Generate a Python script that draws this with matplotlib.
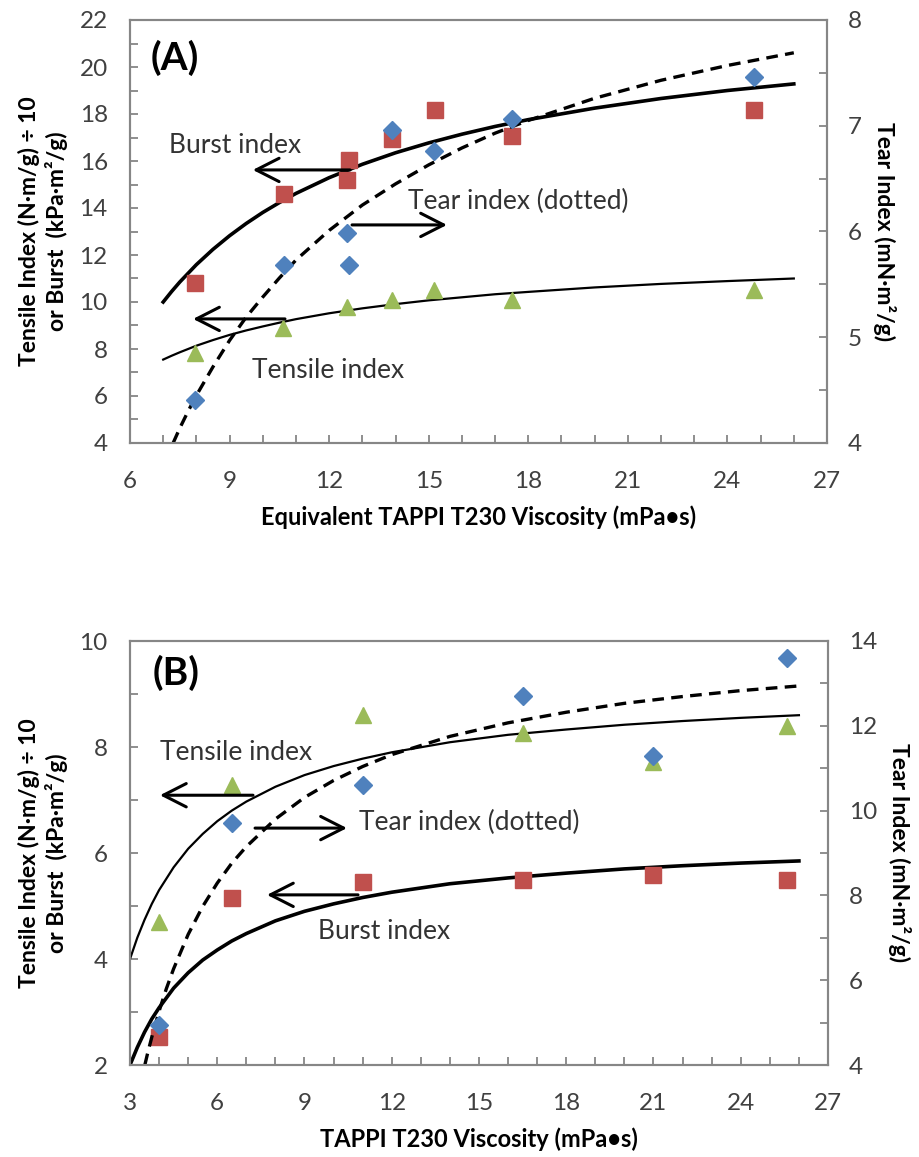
import matplotlib
matplotlib.use("Agg")
import matplotlib.pyplot as plt
from matplotlib.ticker import MultipleLocator

plt.rcParams['font.family'] = ['Lato', 'DejaVu Sans']

BLUE = '#4F81BD'
RED = '#C0504D'
GREEN = '#9BBB59'
SPINE = '#868686'
TICKTXT = '#404040'

# ---------------- Panel A data ----------------
a_x = [7.95, 10.65, 12.55, 12.6, 13.9, 15.15, 17.5, 24.8]
a_x_sq = [7.95, 10.65, 12.6, 12.55, 13.9, 15.2, 17.5, 24.8]
a_x_tri = [7.95, 10.6, 12.55, 13.9, 15.15, 17.5, 24.8]
a_tear = [4.41, 5.68, 5.99, 5.68, 6.96, 6.76, 7.06, 7.46]          # right axis
a_burst = [10.8, 14.6, 16.05, 15.2, 16.95, 18.15, 17.05, 18.15]
a_tensile = [7.85, 8.9, 9.8, 10.1, 10.5, 10.1, 10.5]

# trend lines
a_fit_x = [7, 7.25, 7.5, 8, 8.5, 9, 9.5, 10, 10.5, 11, 12, 13, 14, 15, 16, 17,
           18, 20, 22, 24, 26]
a_fit_burst = [10.00, 10.44, 10.85, 11.59, 12.24, 12.82, 13.34, 13.81, 14.23,
               14.62, 15.29, 15.86, 16.35, 16.77, 17.14, 17.47, 17.76, 18.25,
               18.66, 19.00, 19.28]
a_fit_tensile = [7.55, 7.71, 7.86, 8.14, 8.38, 8.60, 8.79, 8.96, 9.12, 9.27,
                 9.52, 9.73, 9.91, 10.07, 10.20, 10.33, 10.43, 10.62, 10.77,
                 10.89, 11.00]
a_fit_tear_x = [7.3, 7.5, 7.75, 8, 8.5, 9, 9.5, 10, 10.5, 11, 12, 13, 14, 15,
                16, 17, 18, 20, 22, 24, 26]
a_fit_tear = [4.00, 4.14, 4.30, 4.45, 4.72, 4.97, 5.19, 5.38, 5.56, 5.73,
              6.01, 6.25, 6.45, 6.63, 6.79, 6.93, 7.05, 7.26, 7.43, 7.57, 7.69]

# ---------------- Panel B data ----------------
b_x = [4.0, 6.5, 11.0, 16.5, 21.0, 25.6]
b_tear = [4.94, 9.71, 10.6, 12.7, 11.29, 13.6]                      # right axis
b_burst = [2.53, 5.15, 5.45, 5.49, 5.58, 5.49]
b_tensile = [4.70, 7.28, 8.60, 8.26, 7.72, 8.40]

b_fit_x = [3, 3.25, 3.5, 3.75, 4, 4.5, 5, 5.5, 6, 6.5, 7, 8, 9, 10, 11, 12,
           14, 16, 18, 20, 22, 24, 26]
b_fit_tensile = [4.00, 4.40, 4.74, 5.04, 5.30, 5.73, 6.08, 6.36, 6.60, 6.80,
                 6.97, 7.25, 7.47, 7.64, 7.78, 7.90, 8.09, 8.23, 8.33, 8.42,
                 8.49, 8.55, 8.60]
b_fit_burst = [2.00, 2.33, 2.62, 2.87, 3.08, 3.45, 3.74, 3.98, 4.17, 4.34,
               4.48, 4.72, 4.90, 5.04, 5.16, 5.26, 5.42, 5.53, 5.62, 5.70,
               5.76, 5.81, 5.85]
b_fit_tear_x = [3.51, 3.6, 3.75, 4, 4.25, 4.5, 5, 5.5, 6, 6.5, 7, 8, 9, 10,
                11, 12, 14, 16, 18, 20, 22, 24, 26]
b_fit_tear = [4.00, 4.26, 4.66, 5.27, 5.80, 6.27, 7.08, 7.74, 8.29, 8.76,
              9.15, 9.80, 10.31, 10.71, 11.04, 11.32, 11.75, 12.07, 12.32,
              12.53, 12.69, 12.83, 12.94]

ylabel_left = 'Tensile Index (N·m/g) ÷ 10\nor Burst  (kPa·m²/g)'
ylabel_right = 'Tear Index (mN·m²/g)'

W, H = 920, 1157
fig = plt.figure(figsize=(W / 100, H / 100), dpi=100)


def px_axes(l, t, r, b):
    return fig.add_axes([l / W, 1 - b / H, (r - l) / W, (b - t) / H])


def style(ax, ax2, xlim, ylim, y2lim, xmaj, ymaj, y2maj, y2min):
    ax.set_xlim(*xlim)
    ax.set_ylim(*ylim)
    ax2.set_ylim(*y2lim)
    ax.xaxis.set_major_locator(MultipleLocator(xmaj))
    ax.xaxis.set_minor_locator(MultipleLocator(1))
    ax.yaxis.set_major_locator(MultipleLocator(ymaj))
    ax.yaxis.set_minor_locator(MultipleLocator(1))
    ax2.yaxis.set_major_locator(MultipleLocator(y2maj))
    ax2.yaxis.set_minor_locator(MultipleLocator(y2min))
    for a in (ax, ax2):
        for s in a.spines.values():
            s.set_color(SPINE)
            s.set_linewidth(1.5)
        a.tick_params(which='both', direction='in', length=6, width=1.3,
                      color=SPINE, labelsize=17.5, labelcolor=TICKTXT)
    ax.tick_params(axis='x', pad=20)
    ax.tick_params(axis='y', pad=16)
    ax2.tick_params(axis='y', pad=15)
    ax.set_ylabel(ylabel_left, fontsize=16.5, fontweight='bold', labelpad=8,
                  linespacing=1.3)
    ax2.set_ylabel(ylabel_right, fontsize=16.5, fontweight='bold', rotation=-90,
                   labelpad=8, va='bottom')


def arrow(ax, x0, x1, y):
    ax.annotate('', xy=(x1, y), xytext=(x0, y),
                arrowprops=dict(arrowstyle='->,head_length=0.55,head_width=0.28',
                                lw=2.2, color='black',
                                mutation_scale=30, shrinkA=0, shrinkB=0))


lbl = dict(fontsize=19, color='#333333', ha='center', va='center')

# ================= Panel A =================
axA = px_axes(130, 20, 827, 443)
axA2 = axA.twinx()
style(axA, axA2, (6, 27), (4, 22), (4, 8), 3, 2, 1, 0.5)
axA.plot(a_fit_x, a_fit_burst, color='black', lw=2.6, zorder=2)
axA.plot(a_fit_x, a_fit_tensile, color='black', lw=1.6, zorder=2)
axA2.plot(a_fit_tear_x, a_fit_tear, color='black', lw=2.4, ls=(0, (3.5, 2.2)), zorder=2)
axA.plot(a_x_tri, a_tensile, ls='none', marker='^', ms=12, color=GREEN, zorder=3)
axA.plot(a_x_sq, a_burst, ls='none', marker='s', ms=11, color=RED, zorder=3)
axA2.plot(a_x, a_tear, ls='none', marker='D', ms=9, color=BLUE, zorder=4)
axA.set_xlabel('Equivalent TAPPI T230 Viscosity (mPa•s)', fontsize=17,
               fontweight='bold', labelpad=10)
axA.text(7.35, 20.4, '(A)', fontsize=28, fontweight='bold', ha='center', va='center')
axA.text(9.16, 16.68, 'Burst index', **lbl)
arrow(axA, 12.63, 9.70, 15.62)
axA.text(17.7, 14.26, 'Tear index (dotted)', **lbl)
arrow(axA, 12.69, 15.55, 13.28)
axA.text(11.97, 7.1, 'Tensile index', **lbl)
arrow(axA, 10.67, 7.90, 9.28)

# ================= Panel B =================
axB = px_axes(130, 641, 828, 1065)
axB2 = axB.twinx()
style(axB, axB2, (3, 27), (2, 10), (4, 14), 3, 2, 2, 1)
axB.plot(b_fit_x, b_fit_burst, color='black', lw=2.6, zorder=2)
axB.plot(b_fit_x, b_fit_tensile, color='black', lw=1.6, zorder=2)
axB2.plot(b_fit_tear_x, b_fit_tear, color='black', lw=2.4, ls=(0, (3.5, 2.2)), zorder=2)
axB.plot(b_x, b_tensile, ls='none', marker='^', ms=12, color=GREEN, zorder=3)
axB.plot(b_x, b_burst, ls='none', marker='s', ms=11, color=RED, zorder=3)
axB2.plot(b_x, b_tear, ls='none', marker='D', ms=9, color=BLUE, zorder=4)
axB.set_xlabel('TAPPI T230 Viscosity (mPa•s)', fontsize=17,
               fontweight='bold', labelpad=10)
axB.text(4.58, 9.40, '(B)', fontsize=28, fontweight='bold', ha='center', va='center')
axB.text(6.63, 7.89, 'Tensile index', **lbl)
arrow(axB, 7.23, 4.03, 7.09)
axB.text(14.66, 6.57, 'Tear index (dotted)', **lbl)
arrow(axB, 7.30, 10.46, 6.47)
axB.text(11.74, 4.51, 'Burst index', **lbl)
arrow(axB, 10.84, 7.71, 5.21)

fig.savefig('out.png', dpi=100)
